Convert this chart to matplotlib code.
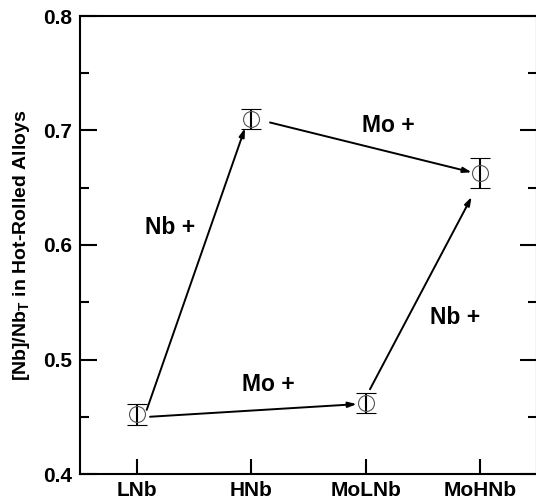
import numpy as np
import matplotlib
matplotlib.use("Agg")
from matplotlib import pyplot as plt
from matplotlib.ticker import MultipleLocator

# data
alloys = ["LNb", "HNb", "MoLNb", "MoHNb"]
nb_ratio = [0.452, 0.710, 0.462, 0.663]
nb_err = [0.009, 0.0087, 0.0086, 0.0128]

# arrows: (start x, start y, end x, end y) in data units
arrows = [(0.084, 0.456, 0.944, 0.702),
          (0.113, 0.450, 1.922, 0.461),
          (1.163, 0.707, 2.928, 0.6635),
          (2.038, 0.474, 2.928, 0.642)]
labels = [("Nb +", 0.288, 0.615),
          ("Mo +", 2.196, 0.704),
          ("Mo +", 1.146, 0.478),
          ("Nb +", 2.782, 0.537)]

plt.rcParams['font.family'] = ['Liberation Sans', 'DejaVu Sans']
plt.rcParams['font.weight'] = 'bold'
plt.rcParams['mathtext.fontset'] = 'custom'
plt.rcParams['mathtext.rm'] = 'Liberation Sans:bold'
plt.rcParams['mathtext.bf'] = 'Liberation Sans:bold'

fig = plt.figure(figsize=(5.36, 5.04), dpi=100)
ax = fig.add_axes([80/536, 30/504, 457/536, 458/504])

x = np.arange(len(alloys))
ax.errorbar(x, nb_ratio, yerr=nb_err, fmt='o', mfc='none', mec='#555555',
            mew=0.8, ms=11.5, ecolor='black', elinewidth=1.5, capsize=7,
            capthick=1.8, zorder=3)

for x0, y0, x1, y1 in arrows:
    ax.annotate("", xy=(x1, y1), xytext=(x0, y0),
                arrowprops=dict(arrowstyle='-|>,head_length=0.5,head_width=0.16',
                                color='black', lw=1.4, shrinkA=0, shrinkB=0))

for txt, tx, ty in labels:
    ax.text(tx, ty, txt, fontsize=16.5, fontweight='bold', ha='center', va='center')

ax.set_xlim(-0.5, 3.5)
ax.set_ylim(0.4, 0.8)
ax.set_xticks(x)
ax.set_xticklabels(alloys)
ax.yaxis.set_major_locator(MultipleLocator(0.1))
ax.yaxis.set_minor_locator(MultipleLocator(0.05))
ax.set_yticklabels([f"{v:.1f}" for v in ax.get_yticks()])

ax.tick_params(axis='y', which='major', direction='in', length=12, width=1.5,
               left=True, right=True, labelsize=15, pad=6)
ax.tick_params(axis='y', which='minor', direction='in', length=6.5, width=1.5,
               left=True, right=True)
ax.tick_params(axis='x', which='major', direction='in', length=11, width=1.5,
               top=False, labelsize=15, pad=5)
for s in ax.spines.values():
    s.set_linewidth(1.5)

ax.set_ylabel(r"[Nb]/Nb$_{\mathrm{T}}$ in Hot-Rolled Alloys", fontsize=14,
              fontweight='bold', labelpad=8)

fig.savefig("out.png", dpi=100)
